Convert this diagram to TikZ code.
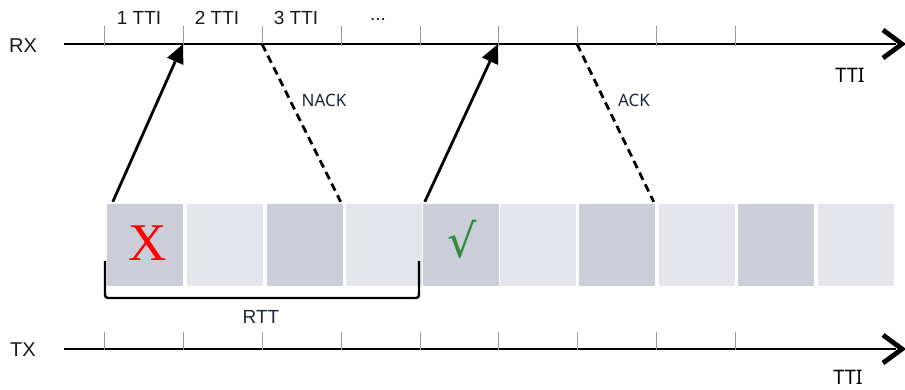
\documentclass[tikz,border=0pt]{standalone}
\usepackage{fontspec}
\setmainfont{Liberation Sans}
\newfontfamily\labfont{Noto Sans}
\newfontfamily\serifx{Liberation Serif}
\newfontfamily\symfont{DejaVu Serif}
\usetikzlibrary{arrows.meta}
\definecolor{boxdark}{HTML}{CBCED9}
\definecolor{boxlight}{HTML}{E5E6EC}
\definecolor{navy}{HTML}{1E2638}
\definecolor{tickgray}{HTML}{9A9A9A}
\definecolor{okgreen}{HTML}{2E8B3A}
\begin{document}
\begin{tikzpicture}[x=1pt,y=-1pt,
  axisline/.style={line width=2.8pt},
  chev/.style={line width=4.8pt, line cap=butt, line join=miter},
  tickmark/.style={draw=tickgray, line width=1pt},
  slot/.style={draw=none, minimum width=76pt, minimum height=82pt, inner sep=0pt},
  darkslot/.style={slot, fill=boxdark},
  lightslot/.style={slot, fill=boxlight},
  sendarrow/.style={line width=2.8pt, -{Triangle[length=19pt,width=17pt]}},
  feedback/.style={line width=2.8pt, dash pattern=on 8pt off 5pt},
  axlabel/.style={font=\fontsize{20}{23}\selectfont, text=black!90, inner sep=0pt},
  ttilabel/.style={font=\fontsize{19}{22}\selectfont, text=black!90, inner sep=0pt},
  acklabel/.style={font=\labfont\fontsize{17}{20}\selectfont, text=navy, inner sep=0pt},
]
\useasboundingbox (0,0) rectangle (905,390);

% RX axis
\draw[axisline] (64,44) -- (896,44);
\draw[chev] (883,30) -- (902,44) -- (883,58);
\foreach \x/\n in {104/1,183/2,262/3,341/4,420/5,498/6,577/7,656/8,735/9}{
  \draw[tickmark] (\x,26) -- (\x,46);
  \coordinate (r\n) at (\x,44);
}
% TX axis
\draw[axisline] (64,349) -- (896,349);
\draw[chev] (883,335) -- (902,349) -- (883,363);
\foreach \x in {104,183,262,341,420,498,577,656,735}{
  \draw[tickmark] (\x,332) -- (\x,350);
}

% labels
\node[axlabel] (rx) at (23,46) {RX};
\node[axlabel] (tx) at (23,350) {TX};
\node[ttilabel] (t1) at (139,18) {1 TTI};
\node[ttilabel] (t2) at (217,18) {2 TTI};
\node[ttilabel] (t3) at (296,18) {3 TTI};
\node[ttilabel] (t4) at (378,19) {...};
\node[acklabel, font=\labfont\fontsize{20}{23}\selectfont, text=black] (ttirx) at (850,75) {TTI};
\node[acklabel, font=\labfont\fontsize{20}{23}\selectfont, text=black] (ttitx) at (848,377) {TTI};

% slots
\node[darkslot]  (b1)  at (145,245) {};
\node[lightslot] (b2)  at (224.5,245) {};
\node[darkslot]  (b3)  at (304.5,245) {};
\node[lightslot] (b4)  at (383.5,245) {};
\node[darkslot]  (b5)  at (461,245) {};
\node[lightslot] (b6)  at (538,245) {};
\node[darkslot]  (b7)  at (616.5,245) {};
\node[lightslot] (b8)  at (697,245) {};
\node[darkslot]  (b9)  at (776,245) {};
\node[lightslot] (b10) at (855.5,245) {};

\node[text=red, font=\serifx\fontsize{53}{56}\selectfont, inner sep=0pt] (xmark) at (148,243) {X};
\node[text=okgreen, font=\symfont\fontsize{46}{50}\selectfont, inner sep=0pt] (okmark) at (462,239) {√};

% arrows
\draw[sendarrow] ([xshift=6pt,yshift=2pt]b1.north west) -- (r2);
\draw[feedback] (r3) -- ([xshift=-2pt,yshift=2pt]b3.north east);
\node[acklabel] (nack) at (324,100) {NACK};
\draw[sendarrow] ([xshift=2pt,yshift=2pt]b5.north west) -- (r6);
\draw[feedback] (r7) -- ([xshift=-1pt,yshift=2pt]b7.north east);
\node[acklabel] (ack) at (634,100) {ACK};

% RTT bracket
\draw[line width=2.4pt, rounded corners=3pt] (105,261) -- (105,298) -- (419,298) -- (419,261);
\node[acklabel, font=\fontsize{19}{22}\selectfont] (rtt) at (261,317) {RTT};
\end{tikzpicture}
\end{document}
